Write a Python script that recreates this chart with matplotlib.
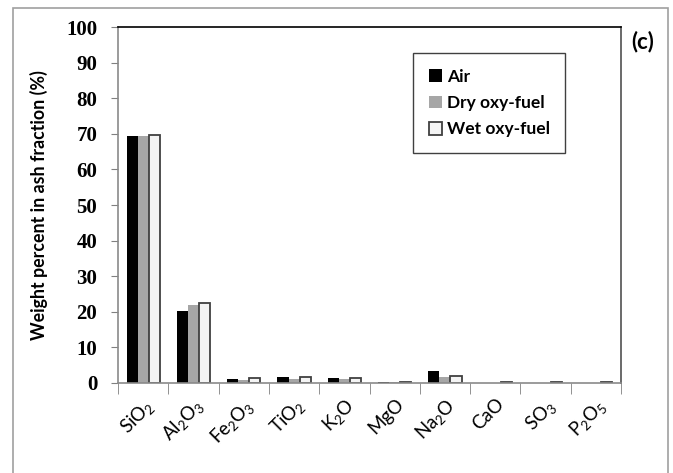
import numpy as np
import matplotlib
matplotlib.use("Agg")
import matplotlib.pyplot as plt
from matplotlib.patches import Rectangle

plt.rcParams['font.family'] = ['Lato', 'DejaVu Sans']
plt.rcParams['mathtext.fontset'] = 'custom'
plt.rcParams['mathtext.rm'] = 'Lato'
plt.rcParams['mathtext.it'] = 'Lato:italic'
plt.rcParams['mathtext.bf'] = 'Lato:bold'

oxides = ['SiO$_2$', 'Al$_2$O$_3$', 'Fe$_2$O$_3$', 'TiO$_2$', 'K$_2$O',
          'MgO', 'Na$_2$O', 'CaO', 'SO$_3$', 'P$_2$O$_5$']
air = [69.3, 20.3, 1.0, 1.8, 1.4, 0.35, 3.3, 0.0, 0.0, 0.0]
dry_oxy = [69.3, 22.0, 0.8, 1.2, 1.2, 0.2, 1.6, 0.1, 0.1, 0.1]
wet_oxy = [69.7, 22.5, 1.3, 1.8, 1.4, 0.35, 1.9, 0.35, 0.35, 0.35]
yticks = [0, 10, 20, 30, 40, 50, 60, 70, 80, 90, 100]

fig = plt.figure(figsize=(6.73, 4.73), dpi=100)
ax = fig.add_axes([118/673, 1-383/473, (621-118)/673, (383-27)/473])

# outer frame of the chart area
fig.patches.append(Rectangle((13/673, -0.01), 655/673, 1-8/473+0.01,
                             transform=fig.transFigure, fill=False,
                             edgecolor='#a0a0a0', linewidth=1.2))

x = np.arange(len(oxides))
w = 0.22
ax.bar(x - w, air, w, color='black', label='Air')
ax.bar(x, dry_oxy, w, color='#a6a6a6', label='Dry oxy-fuel')
ax.bar(x + w, wet_oxy, w, color='#f4f4f4', edgecolor='#404040',
       linewidth=1.3, label='Wet oxy-fuel')

ax.set_xlim(-0.5, len(oxides) - 0.5)
ax.set_ylim(0, 100)
ax.set_yticks(yticks)
ax.set_yticklabels([str(v) for v in yticks], family='Liberation Serif',
                   fontweight='bold', fontsize=15)
ax.set_xticks(x)
ax.set_xticklabels(oxides, rotation=45, ha='right', rotation_mode='anchor',
                   fontsize=13.5)
ax.set_xticks(np.arange(len(oxides) + 1) - 0.5, minor=True)
ax.tick_params(axis='x', which='major', length=0, pad=9)
ax.tick_params(axis='x', which='minor', length=8, color='#808080', direction='out')
ax.tick_params(axis='y', length=5, color='#808080', direction='out', pad=10)

ax.spines['left'].set_color('#8a8a8a')
ax.spines['bottom'].set_color('#8a8a8a')
ax.spines['top'].set_color('black')
ax.spines['right'].set_color('#505050')
for s in ax.spines.values():
    s.set_linewidth(1.2)

ax.set_ylabel('Weight percent in ash fraction (%)', fontsize=12.8,
              fontweight='bold', labelpad=13)

leg = ax.legend(loc='upper left', bbox_to_anchor=(413/673, 1-53/473),
                bbox_transform=fig.transFigure, fancybox=False,
                edgecolor='#404040', framealpha=1, fontsize=12.5,
                handlelength=0.75, handleheight=0.75, handletextpad=0.3,
                labelspacing=0.6, borderpad=0.9, borderaxespad=0)
leg.get_frame().set_linewidth(1.0)
for t in leg.get_texts():
    t.set_fontweight('bold')

fig.text(643/673, 1-42/473, '(c)', fontsize=16, fontweight='bold',
         ha='center', va='center')

fig.savefig('out.png', dpi=100)
